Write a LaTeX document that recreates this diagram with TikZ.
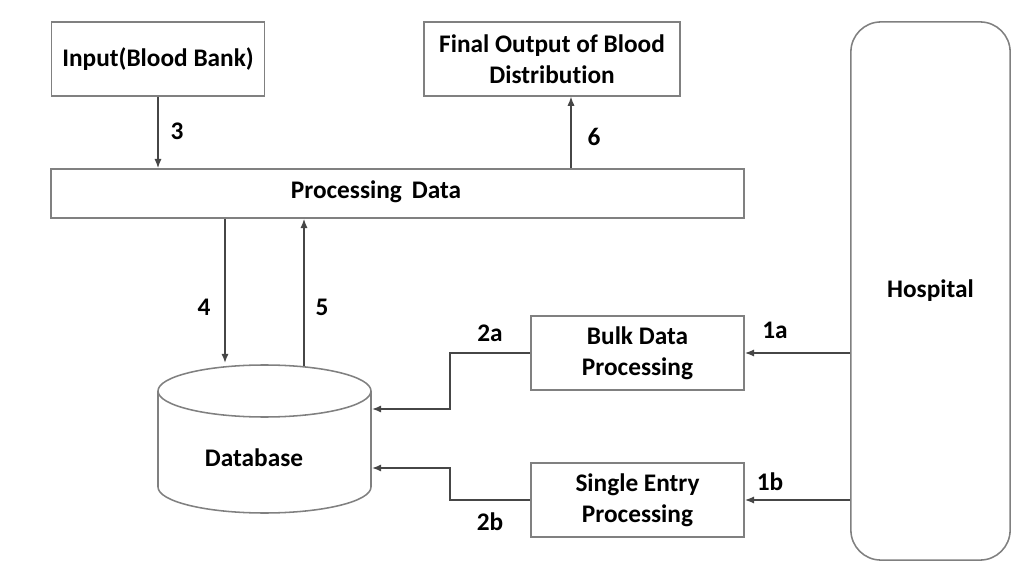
\documentclass[tikz,border=0pt]{standalone}
\usepackage{fontspec}
\setmainfont{Carlito}[Ligatures=NoCommon]
\usetikzlibrary{arrows.meta}

\definecolor{boxgray}{RGB}{128,128,128}
\definecolor{linegray}{RGB}{70,70,70}

\tikzset{
    box/.style={draw=boxgray, line width=1.1pt, minimum width=5.33cm, minimum height=1.84cm, align=center},
    txt/.style={font=\fontsize{18}{22}\selectfont\bfseries},
    arr/.style={draw=linegray, line width=1pt, -{Latex[length=2.3mm,width=1.8mm]}},
    num/.style={font=\fontsize{18}{22}\selectfont\bfseries}
}

\begin{document}
\begin{tikzpicture}[x=0.025cm, y=-0.025cm]
    \useasboundingbox (0,0) rectangle (1012,563);

    % the boxes
    \node[box, txt] (input) at (158,59) {Input(Blood Bank)};
    \node[box, txt, minimum width=6.4cm] (final) at (552,59) {Final Output of Blood\\Distribution};
    \node[box, minimum width=17.33cm, minimum height=1.23cm] (proc) at (397.5,193.5) {};
    \node[txt] (proclabel) at (376,192) {Processing\, Data};
    \node[box, txt] (bulk) at (637.5,353) {Bulk Data\\Processing};
    \node[box, txt] (single) at (637.5,500) {Single Entry\\Processing};
    \node[draw=boxgray, line width=1.1pt, rounded corners=0.75cm, minimum width=3.98cm, minimum height=13.45cm, txt] (hosp) at (930.5,291) {Hospital};

    % the database (drawn by hand, the points on it are kept as coordinates)
    \draw[draw=boxgray, line width=1.1pt] (158,391) -- (158,487) arc[start angle=180, end angle=0, x radius=106.5, y radius=26] -- (371,391);
    \draw[draw=boxgray, line width=1.1pt] (264.5,391) ellipse[x radius=106.5, y radius=26];
    \node[txt] (db) at (254,458) {Database};
    \coordinate (dbin4) at (225,363);
    \coordinate (dbout5) at (304,366);
    \coordinate (dbin2a) at (372,409);
    \coordinate (dbin2b) at (372,468);

    % draw the arrows
    \draw[arr] (input.south) -- (input.south |- proc.north);
    \draw[arr] (proc.north -| 571,0) -- (final.south -| 571,0);
    \draw[arr] (proc.south -| dbin4) -- (dbin4);
    \draw[arr] (dbout5) -- (proc.south -| dbout5);
    \draw[arr] (hosp.west |- bulk.east) -- (bulk.east);
    \draw[arr] (hosp.west |- single.east) -- (single.east);
    \draw[arr] (bulk.west) -- ++(-80,0) |- (dbin2a);
    \draw[arr] (single.west) -- ++(-80,0) |- (dbin2b);

    % the numbers on the arrows
    \node[num] (n3) at (177,131) {3};
    \node[num] (n6) at (594,137) {6};
    \node[num] (n4) at (204,307) {4};
    \node[num] (n5) at (322,307) {5};
    \node[num] (n2a) at (490,333) {2a};
    \node[num] (n1a) at (775,330) {1a};
    \node[num] (n1b) at (770,482) {1b};
    \node[num] (n2b) at (490,522) {2b};

\end{tikzpicture}
\end{document}
